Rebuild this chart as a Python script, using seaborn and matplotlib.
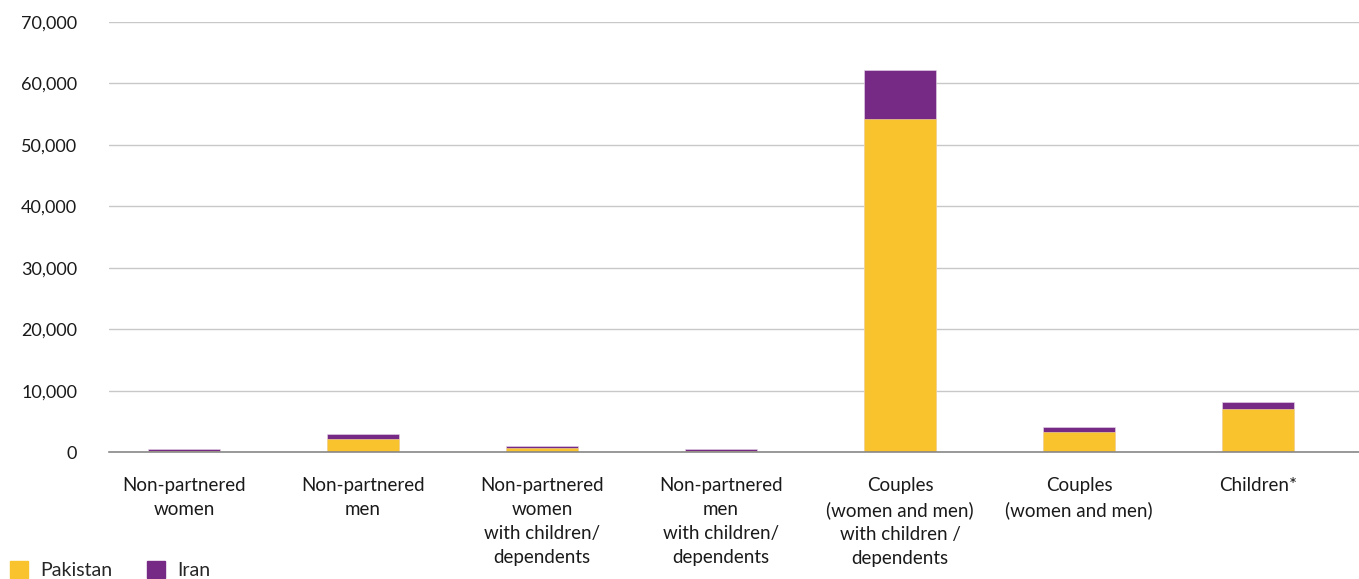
import numpy as np
import pandas as pd
import matplotlib
matplotlib.use("Agg")
import matplotlib.pyplot as plt
import seaborn as sns
from matplotlib.patches import Patch
from matplotlib.ticker import FuncFormatter

categories = [
    "Non-partnered\nwomen",
    "Non-partnered\nmen",
    "Non-partnered\nwomen\nwith children/\ndependents",
    "Non-partnered\nmen\nwith children/\ndependents",
    "Couples\n(women and men)\nwith children /\ndependents",
    "Couples\n(women and men)",
    "Children*",
]
pakistan = [200, 2100, 650, 200, 54200, 3300, 6950]
iran = [300, 800, 300, 300, 8000, 760, 1190]

yellow = "#F8C32D"
purple = "#762A85"

sns.set_theme(style="white")
plt.rcParams["font.family"] = ["Lato", "DejaVu Sans"]

df = pd.DataFrame({"category": categories, "Pakistan": pakistan, "Iran": iran})
df["total"] = df["Pakistan"] + df["Iran"]

fig = plt.figure(figsize=(13.59, 5.79), dpi=100)
ax = fig.add_axes([109 / 1359, 0.219, 1 - 109 / 1359, 0.743])

# stacked: draw totals in purple, then Pakistan over it
sns.barplot(data=df, x="category", y="total", color=purple, width=0.4,
            saturation=1, linewidth=0.4, edgecolor="#e8d8ea", ax=ax, zorder=3)
sns.barplot(data=df, x="category", y="Pakistan", color=yellow, width=0.4,
            saturation=1, linewidth=0.4, edgecolor="#fbe3a0", ax=ax, zorder=4)

ax.set_ylim(0, 70000)
ax.set_xlim(-0.419, 6.564)
ax.set_yticks(np.arange(0, 70001, 10000))
ax.yaxis.set_major_formatter(FuncFormatter(lambda v, p: f"{int(v):,}"))
ax.grid(axis="y", color="#c8c8c8", linewidth=1, zorder=0)
ax.set_axisbelow(True)
for s in ["top", "right", "left"]:
    ax.spines[s].set_visible(False)
ax.spines["bottom"].set_color("#888888")
ax.spines["bottom"].set_linewidth(1.2)
ax.spines["bottom"].set_zorder(5)
ax.tick_params(axis="y", length=0, pad=23, labelsize=13, labelcolor="#1a1a1a")
ax.tick_params(axis="x", length=0, pad=17.5, labelsize=13.5, labelcolor="#1a1a1a")
ax.set_xlabel("")
ax.set_ylabel("")
for lbl in ax.get_xticklabels():
    lbl.set_linespacing(1.5)
    lbl.set_verticalalignment("top")

handles = [Patch(color=yellow, label="Pakistan"), Patch(color=purple, label="Iran")]
fig.legend(handles=handles, loc="lower left", bbox_to_anchor=(10 / 1359, 0.0), ncol=2,
           frameon=False, fontsize=14, handlelength=0.95, handleheight=0.95,
           handletextpad=0.62, columnspacing=1.75, borderaxespad=0.0, borderpad=0.0)

fig.savefig("out.png", dpi=100, facecolor="white")
